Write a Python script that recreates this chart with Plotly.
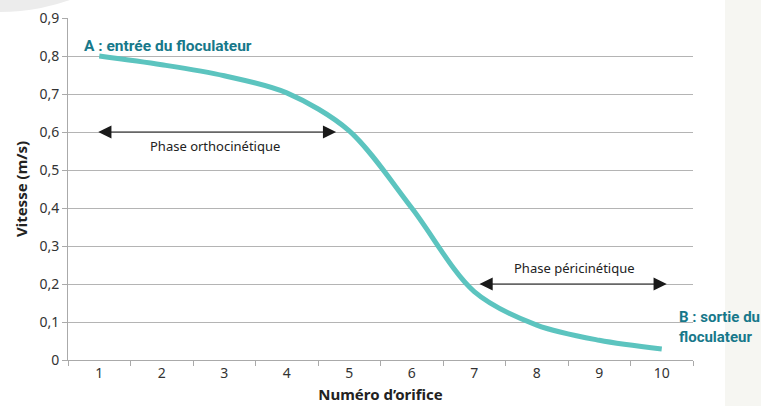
import plotly.graph_objects as go

# Data
orifices = ["1", "2", "3", "4", "5", "6", "7", "8", "9", "10"]
vitesse = [0.80, 0.777, 0.748, 0.703, 0.603, 0.400, 0.180, 0.092, 0.052, 0.029]
y_tickvals = [0, 0.1, 0.2, 0.3, 0.4, 0.5, 0.6, 0.7, 0.8, 0.9]
y_ticktext = ["0", "0,1", "0,2", "0,3", "0,4", "0,5", "0,6", "0,7", "0,8", "0,9"]

W, H = 761, 406
ML, MR, MT, MB = 68, 68, 18, 46
PW, PH = W - ML - MR, H - MT - MB

def px_x(p):
    return (p - ML) / PW

def px_y(p):
    return (H - MB - p) / PH

COND = "Liberation Sans Narrow, Roboto, sans-serif"
TEAL = "#5cc4bf"
DARK_TEAL = "#17788a"

fig = go.Figure()
fig.add_trace(go.Scatter(
    x=orifices, y=vitesse, mode="lines",
    line=dict(color=TEAL, width=5, shape="spline", smoothing=0.9),
    hoverinfo="skip", showlegend=False,
))

shapes = [
    dict(type="rect", xref="paper", yref="paper",
         x0=px_x(725), x1=px_x(800), y0=px_y(420), y1=px_y(-20),
         fillcolor="#f6f6f2", line=dict(width=0), layer="below"),
    dict(type="circle", xref="paper", yref="paper",
         x0=px_x(-210), x1=px_x(210), y0=px_y(12), y1=px_y(-408),
         fillcolor="#ececec", line=dict(width=0), layer="below"),
]

annotations = [
    dict(x=-0.28, y=0.826, xref="x", yref="y", text="<b>A : entrée du floculateur</b>",
         showarrow=False, xanchor="left", yanchor="middle",
         font=dict(family=COND, size=15.5, color=DARK_TEAL)),
    dict(x=9.24, y=0.087, xref="x", yref="y", text="<b>B : sortie du<br>floculateur</b>",
         showarrow=False, xanchor="left", yanchor="middle", align="left",
         font=dict(family=COND, size=15, color=DARK_TEAL)),
    dict(x=3.79, y=0.6, ax=-0.04, ay=0.6, xref="x", yref="y", axref="x", ayref="y",
         text="", showarrow=True, arrowhead=2, startarrowhead=2, arrowside="end+start",
         arrowsize=2.2, startarrowsize=2.2, arrowwidth=1.2, arrowcolor="#1a1a1a"),
    dict(x=1.85, y=0.563, xref="x", yref="y", text="Phase orthocinétique",
         showarrow=False, font=dict(family="Noto Sans, sans-serif", size=13, color="#222222")),
    dict(x=9.08, y=0.2, ax=6.06, ay=0.2, xref="x", yref="y", axref="x", ayref="y",
         text="", showarrow=True, arrowhead=2, startarrowhead=2, arrowside="end+start",
         arrowsize=2.2, startarrowsize=2.2, arrowwidth=1.2, arrowcolor="#1a1a1a"),
    dict(x=7.61, y=0.242, xref="x", yref="y", text="Phase péricinétique",
         showarrow=False, font=dict(family="Noto Sans, sans-serif", size=13, color="#222222")),
]

fig.update_layout(
    width=W, height=H,
    margin=dict(l=ML, r=MR, t=MT, b=MB, autoexpand=False),
    paper_bgcolor="white", plot_bgcolor="white",
    shapes=shapes, annotations=annotations,
    font=dict(family="Noto Sans, Open Sans, sans-serif", size=13, color="#333333"),
    xaxis=dict(
        type="category", range=[-0.5, 9.5], tickson="boundaries", automargin=False,
        ticks="outside", ticklen=5, tickcolor="#aaaaaa", tickwidth=1,
        showline=True, linecolor="#aaaaaa", linewidth=1, showgrid=False,
        tickfont=dict(size=14, color="#333333"),
        title=dict(text="<b>Numéro d’orifice</b>", standoff=8,
                   font=dict(size=15, color="#222222")),
    ),
    yaxis=dict(
        range=[0, 0.9], tickvals=y_tickvals, ticktext=y_ticktext, automargin=False,
        ticks="outside", ticklen=5, tickcolor="#aaaaaa",
        showline=True, linecolor="#aaaaaa", linewidth=1,
        showgrid=True, gridcolor="#b4b4b4", gridwidth=1, zeroline=False,
        tickfont=dict(size=14, color="#333333"),
        title=dict(text="<b>Vitesse (m/s)</b>", standoff=8,
                   font=dict(size=15, color="#222222")),
    ),
)

fig.write_html("out.html", config={"displayModeBar": False},
               post_script="document.body.style.margin='0';")
